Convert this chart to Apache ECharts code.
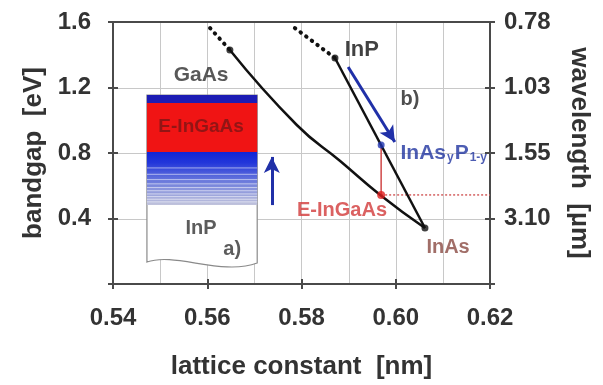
<!DOCTYPE html>
<html>
<head>
<meta charset="utf-8">
<script src="https://cdn.jsdelivr.net/npm/echarts@6/dist/echarts.min.js"></script>
<style>
  html, body { margin: 0; background: #fff; }
  #chart { width: 603px; height: 385px; }
</style>
</head>
<body>
<div id="chart"></div>
<script>
  // axis ticks and grid positions
  const latticeTicks = [0.54, 0.56, 0.58, 0.60, 0.62];
  const latticeGrid = [0.55, 0.56, 0.57, 0.58, 0.59, 0.60, 0.61];
  const bandgapTicks = [0.4, 0.8, 1.2, 1.6];
  const bandgapGrid = [0.4, 0.8, 1.2];
  const wavelengthTicks = ['3.10', '1.55', '1.03', '0.78'];

  // [lattice constant nm, bandgap eV]
  const gaasInAs = [[0.5648, 1.429], [0.5790, 0.971], [0.5882, 0.751], [0.5967, 0.544], [0.6062, 0.342]];
  const gaasExt = [[0.5606, 1.563], [0.5648, 1.429]];
  const inpInAs = [[0.5871, 1.380], [0.6062, 0.342]];
  const inpExt = [[0.5786, 1.563], [0.5871, 1.380]];
  const binaries = [[0.5648, 1.429], [0.5871, 1.380], [0.6062, 0.342]];
  const inasp = [0.5969, 0.849];
  const eIngaas = [0.5969, 0.544];
  const arrowDiag = [[0.5899, 1.325], [0.5998, 0.867]];
  const arrowUp = [[0.5737, 0.482], [0.5737, 0.776]];

  // inset a) layer stack
  const insetX = [0.5472, 0.5706];
  const insetCap = [1.154, 1.105];
  const insetEIngaas = [1.105, 0.806];
  const insetGraded = [0.806, 0.482];
  const insetWave = [[0.5472, 0.134], [0.5531, 0.159], [0.5631, 0.085], [0.5706, 0.128]];

  // annotations
  const labelNames = ['GaAs', 'E-InGaAs', 'InP', 'a)', 'InP', 'b)', 'InAsyP1-y', 'E-InGaAs', 'InAs'];
  const labelPos = [[0.5587, 1.276], [0.5587, 0.959], [0.5587, 0.342], [0.5653, 0.208], [0.5928, 1.429],
                    [0.6030, 1.124], [0.6009, 0.800], [0.5886, 0.452], [0.6111, 0.226]];

  const font = 'Liberation Sans, Arial, sans-serif';
  const labelStyles = [
    { color: '#2e2e2e', fontSize: 21 },
    { color: '#7a1515', fontSize: 19 },
    { color: '#333', fontSize: 20 },
    { color: '#333', fontSize: 20 },
    { color: '#111', fontSize: 22 },
    { color: '#222', fontSize: 20 },
    { color: '#2035a0', fontSize: 21, align: 'left',
      formatter: '{b|InAs}{s|y}{b|P}{s|1-y}',
      rich: { b: { fontSize: 21, fontWeight: 'bold', color: '#2035a0', fontFamily: font },
              s: { fontSize: 12, fontWeight: 'bold', color: '#2035a0', fontFamily: font, padding: [10, 1, 0, 1] } } },
    { color: '#d23a3a', fontSize: 20 },
    { color: '#8a4a42', fontSize: 20 }
  ];

  const chart = echarts.init(document.getElementById('chart'));

  const axisText = () => ({ fontSize: 24, fontWeight: 'bold', color: '#333', fontFamily: font });
  const nameText = () => ({ fontSize: 26, fontWeight: 'bold', color: '#333', fontFamily: font });
  const frame = () => ({ show: true, onZero: false, lineStyle: { color: '#4a4a4a', width: 2 } });
  const tickOut = () => ({ show: true, length: 5, lineStyle: { color: '#4a4a4a', width: 2 } });
  const tickIn = () => ({ show: true, inside: true, length: 5, lineStyle: { color: '#4a4a4a', width: 2 } });
  const hidden = () => ({ show: false });

  // light grid lines, placed through the axes' coordinates
  function renderGrid(params, api) {
    const p = (x, y) => api.coord([x, y]);
    const crisp = v => Math.round(v) + 0.5;
    const lines = latticeGrid.map(v => {
      const a = p(v, 0), b = p(v, 1.6);
      return { type: 'rect', shape: { x: Math.round(a[0]), y: b[1], width: 1, height: a[1] - b[1] },
               style: { fill: '#c8c8c8' } };
    }).concat(bandgapGrid.map(v => {
      const a = p(latticeTicks[0], v), b = p(latticeTicks[4], v);
      return { type: 'rect', shape: { x: a[0], y: Math.round(a[1]), width: b[0] - a[0], height: 1 },
               style: { fill: '#c8c8c8' } };
    }));
    return { type: 'group', children: lines };
  }

  function renderInset(params, api) {
    const p = (x, y) => api.coord([x, y]);
    const l = insetX[0], r = insetX[1];
    const rect = (top, bot) => {
      const a = p(l, top), b = p(r, bot);
      return { x: a[0], y: a[1], width: b[0] - a[0], height: b[1] - a[1] };
    };
    const w = insetWave.map(q => p(q[0], q[1]));
    const t = p(l, insetCap[0]), tr = p(r, insetCap[0]);
    const path = 'M' + t[0] + ' ' + t[1] + ' L' + w[0][0] + ' ' + w[0][1] +
      ' C' + w[1][0] + ' ' + (w[1][1] - 6) + ' ' + w[2][0] + ' ' + (w[2][1] + 6) + ' ' + w[3][0] + ' ' + w[3][1] +
      ' L' + tr[0] + ' ' + tr[1] + ' Z';
    const g = rect(insetGraded[0], insetGraded[1]);
    const stripes = [0.3, 0.42, 0.52, 0.6, 0.67, 0.73, 0.79, 0.84, 0.89, 0.94].map(f => ({
      type: 'line',
      shape: { x1: g.x, y1: g.y + g.height * f, x2: g.x + g.width, y2: g.y + g.height * f },
      style: { stroke: 'rgba(255,255,255,0.55)', lineWidth: 1 }
    }));
    return {
      type: 'group',
      children: [
        { type: 'path', shape: { pathData: path }, style: { fill: '#fff', stroke: '#8a8a8a', lineWidth: 1.2 } },
        { type: 'rect', shape: rect(insetCap[0], insetCap[1]), style: { fill: '#1c1cb4' } },
        { type: 'rect', shape: rect(insetEIngaas[0], insetEIngaas[1]), style: { fill: '#f01414' } },
        { type: 'rect', shape: g, style: {
            fill: new echarts.graphic.LinearGradient(0, 0, 0, 1, [
              { offset: 0, color: '#1224d6' }, { offset: 0.2, color: '#2236da' },
              { offset: 0.6, color: '#7583dc' }, { offset: 1, color: '#c2c4dc' }]) } }
      ].concat(stripes)
    };
  }

  chart.setOption({
    animation: false,
    grid: { left: 113, right: 113, top: 22, bottom: 101 },
    xAxis: [
      { type: 'value', min: latticeTicks[0], max: latticeTicks[4], interval: 0.02, position: 'bottom',
        name: 'lattice constant  [nm]', nameLocation: 'middle', nameGap: 70, nameTextStyle: nameText(),
        axisLine: frame(), splitLine: hidden(), axisTick: tickOut(),
        axisLabel: { ...axisText(), margin: 22, formatter: v => v.toFixed(2) } },
      { type: 'value', min: latticeTicks[0], max: latticeTicks[4], interval: 0.02, position: 'bottom',
        axisLine: hidden(), splitLine: hidden(), axisLabel: hidden(), axisTick: tickIn() },
      { type: 'value', min: latticeTicks[0], max: latticeTicks[4], interval: 0.02, position: 'top',
        axisLine: frame(), axisTick: hidden(), axisLabel: hidden(), splitLine: hidden() }
    ],
    yAxis: [
      { type: 'value', min: 0, max: 1.6, interval: 0.4, position: 'left',
        name: 'bandgap  [eV]', nameLocation: 'middle', nameGap: 62, nameTextStyle: nameText(),
        axisLine: frame(), axisTick: tickOut(), splitLine: hidden(),
        axisLabel: { ...axisText(), margin: 22, formatter: v => (bandgapTicks.some(b => Math.abs(b - v) < 1e-6) ? v.toFixed(1) : '') } },
      { type: 'value', min: 0, max: 1.6, interval: 0.4, position: 'left',
        axisLine: hidden(), splitLine: hidden(), axisLabel: hidden(), axisTick: tickIn() },
      { type: 'value', min: 0, max: 1.6, interval: 0.4, position: 'right',
        name: 'wavelength  [µm]', nameLocation: 'middle', nameRotate: -90, nameGap: 76, nameTextStyle: nameText(),
        axisLine: frame(), splitLine: hidden(), axisTick: tickOut(),
        axisLabel: { ...axisText(), margin: 14, formatter: v => {
          const i = bandgapTicks.findIndex(b => Math.abs(b - v) < 1e-6);
          return i < 0 ? '' : wavelengthTicks[i];
        } } },
      { type: 'value', min: 0, max: 1.6, interval: 0.4, position: 'right',
        axisLine: hidden(), splitLine: hidden(), axisLabel: hidden(), axisTick: tickIn() }
    ],
    series: [
      { type: 'custom', name: 'grid', renderItem: renderGrid, data: [[latticeTicks[0], 0]], silent: true, clip: false, z: 0 },
      { type: 'custom', name: 'inset', renderItem: renderInset, data: [[insetX[0], insetCap[0]]], silent: true, z: 1 },
      { type: 'line', name: 'GaAs-InAs', data: gaasInAs, smooth: 0.5, symbol: 'none',
        lineStyle: { color: '#111', width: 2.5 }, z: 3 },
      { type: 'line', name: 'InP-InAs', data: inpInAs, symbol: 'none', lineStyle: { color: '#111', width: 2.5 }, z: 3 },
      { type: 'line', name: 'GaAs ext', data: gaasExt, symbol: 'none',
        lineStyle: { color: '#111', width: 4, type: [0.5, 6.5], cap: 'round' }, z: 3 },
      { type: 'line', name: 'InP ext', data: inpExt, symbol: 'none',
        lineStyle: { color: '#111', width: 4, type: [0.5, 6.5], cap: 'round' }, z: 3 },
      { type: 'line', name: 'drop', data: [eIngaas, inasp], symbol: 'none',
        lineStyle: { color: '#d04848', width: 1.5 }, z: 2 },
      { type: 'line', name: 'level', data: [eIngaas, [latticeTicks[4], eIngaas[1]]], symbol: 'none',
        lineStyle: { color: '#d46060', width: 1.5, type: [2, 2] }, z: 2 },
      { type: 'scatter', name: 'binaries', data: binaries, symbolSize: 7, itemStyle: { color: '#111' }, z: 4 },
      { type: 'scatter', name: 'InAsP', data: [inasp], symbolSize: 7, itemStyle: { color: '#2035b0' }, z: 4 },
      { type: 'scatter', name: 'E-InGaAs', data: [eIngaas], symbolSize: 8, itemStyle: { color: '#e02020' }, z: 4 },
      { type: 'line', name: 'arrows', data: [], symbol: 'none', z: 4,
        markLine: { silent: true, symbol: ['none', 'arrow'], symbolSize: [12, 16], label: { show: false },
          lineStyle: { color: '#2030a8', width: 3, type: 'solid' },
          data: [
            [{ coord: arrowDiag[0] }, { coord: arrowDiag[1] }],
            [{ coord: arrowUp[0] }, { coord: arrowUp[1] }]
          ] } },
      { type: 'scatter', name: 'labels', symbolSize: 1, itemStyle: { color: 'transparent' }, z: 5, silent: true,
        data: labelNames.map((n, i) => ({
          value: labelPos[i], name: n,
          label: Object.assign({ show: true, position: labelStyles[i].align === 'left' ? 'right' : 'inside',
            distance: 0, fontWeight: 'bold', fontFamily: font, formatter: '{b}' }, labelStyles[i])
        })) }
    ]
  });
</script>
</body>
</html>
